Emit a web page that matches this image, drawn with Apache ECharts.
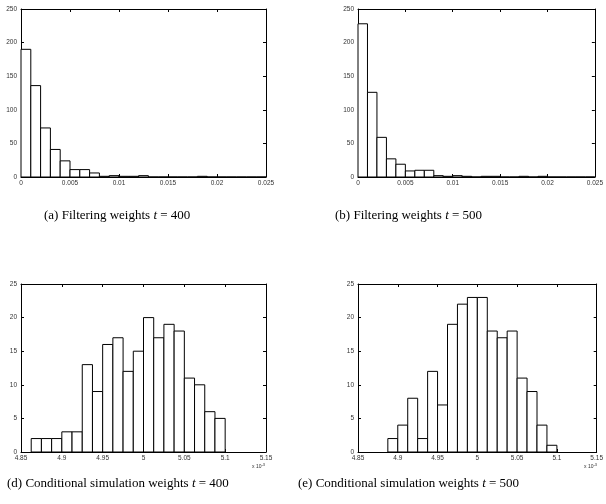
<!DOCTYPE html>
<html>
<head>
<meta charset="utf-8">
<script src="https://cdn.jsdelivr.net/npm/echarts@6/dist/echarts.min.js"></script>
<style>
  html, body { margin: 0; padding: 0; background: #fff; }
  #chart { width: 606px; height: 504px; }
</style>
</head>
<body>
<div id="chart"></div>
<script>
// Histogram counts per bin for the particle weights.
const filteringCounts400 = [190, 136, 73, 41, 24, 11, 11, 6, 1, 2, 1, 1, 2, 0, 0, 0, 0, 0, 1, 0, 0, 0, 0, 0, 0];
const filteringCounts500 = [228, 126, 59, 27, 19, 9, 10, 10, 2, 1, 2, 1, 0, 1, 1, 0, 0, 1, 0, 1, 0, 0, 0, 0, 0];
const filteringBinStart = 0;
const filteringBinWidth = 0.001;

// Conditional simulation weights, in units of 1e-3.
const conditionalCounts400 = [2, 2, 2, 3, 3, 13, 9, 16, 17, 12, 15, 20, 17, 19, 18, 11, 10, 6, 5];
const conditionalBinStart400 = 4.8625;
const conditionalCounts500 = [2, 4, 8, 2, 12, 7, 19, 22, 23, 23, 18, 17, 18, 11, 9, 4, 1];
const conditionalBinStart500 = 4.8875;
const conditionalBinWidth = 0.0125;

const captions = [
  ['(a) Filtering weights ', 't', ' = 400'],
  ['(b) Filtering weights ', 't', ' = 500'],
  ['(d) Conditional simulation weights ', 't', ' = 400'],
  ['(e) Conditional simulation weights ', 't', ' = 500']
];

const tickFont = { fontFamily: 'Liberation Sans', fontSize: 6.5, color: '#333' };

function binsFrom(start, width, counts) {
  return counts.map((n, i) => [start + i * width, start + (i + 1) * width, n]);
}

function renderBin(params, api) {
  const top = api.coord([api.value(0), api.value(2)]);
  const base = api.coord([api.value(1), 0]);
  return {
    type: 'rect',
    shape: { x: top[0], y: top[1], width: base[0] - top[0], height: base[1] - top[1] },
    style: { fill: '#fff', stroke: '#000', lineWidth: 1 }
  };
}

const panels = [
  { grid: { left: 21, top: 9, width: 245, height: 168 }, x: [0, 0.025, 0.005], y: [0, 250, 50],
    data: binsFrom(filteringBinStart, filteringBinWidth, filteringCounts400) },
  { grid: { left: 358, top: 9, width: 244, height: 168 }, x: [0, 0.025, 0.005], y: [0, 250, 50],
    data: binsFrom(filteringBinStart, filteringBinWidth, filteringCounts500) },
  { grid: { left: 21, top: 284, width: 245, height: 168 }, x: [4.85, 5.15, 0.05], y: [0, 25, 5],
    data: binsFrom(conditionalBinStart400, conditionalBinWidth, conditionalCounts400) },
  { grid: { left: 358, top: 284, width: 244, height: 168 }, x: [4.85, 5.15, 0.05], y: [0, 25, 5],
    data: binsFrom(conditionalBinStart500, conditionalBinWidth, conditionalCounts500) }
];

const grids = [], xAxes = [], yAxes = [], series = [];
const lineStyle = { color: '#000', width: 1 };
panels.forEach((p, i) => {
  grids.push(Object.assign({ containLabel: false }, p.grid));
  const xBase = { type: 'value', gridIndex: i, min: p.x[0], max: p.x[1], interval: p.x[2],
    splitLine: { show: false }, axisLine: { show: true, onZero: false, lineStyle },
    axisTick: { show: true, inside: true, length: 3, lineStyle } };
  xAxes.push(Object.assign({}, xBase, { position: 'bottom',
    axisLabel: Object.assign({ margin: 3, showMinLabel: true, showMaxLabel: true, hideOverlap: false }, tickFont) }));
  xAxes.push(Object.assign({}, xBase, { position: 'top', axisLabel: { show: false } }));
  const yBase = { type: 'value', gridIndex: i, min: p.y[0], max: p.y[1], interval: p.y[2],
    splitLine: { show: false }, axisLine: { show: true, onZero: false, lineStyle },
    axisTick: { show: true, inside: true, length: 3, lineStyle } };
  yAxes.push(Object.assign({}, yBase, { position: 'left',
    axisLabel: Object.assign({ margin: 4 }, tickFont) }));
  yAxes.push(Object.assign({}, yBase, { position: 'right', axisLabel: { show: false } }));
  series.push({ type: 'custom', xAxisIndex: 2 * i, yAxisIndex: 2 * i, data: p.data,
    encode: { x: [0, 1], y: 2 }, renderItem: renderBin, silent: true, animation: false });
});

// sub-figure captions, left edge and vertical middle
const captionSpots = [[44, 216], [335, 216], [7, 484], [298, 484]];
const graphics = captions.map((c, i) => ({
  type: 'text', x: captionSpots[i][0], y: captionSpots[i][1],
  style: {
    text: c[0] + '{i|' + c[1] + '}' + c[2],
    fontFamily: 'Liberation Serif', fontSize: 13, fill: '#000',
    verticalAlign: 'middle', align: 'left',
    rich: { i: { fontFamily: 'Liberation Serif', fontStyle: 'italic', fontSize: 13 } }
  }
}));
// scale factor notes under the conditional simulation panels
[[252, 467], [584, 467]].forEach(pos => {
  graphics.push({ type: 'text', left: pos[0], top: pos[1] - 4,
    style: { text: 'x 10{s|-3}', fontFamily: 'Liberation Sans', fontSize: 5, fill: '#333',
      rich: { s: { fontSize: 4, verticalAlign: 'top', padding: [0, 0, 3, 0] } } } });
});

const chart = echarts.init(document.getElementById('chart'), null, { renderer: 'canvas' });
chart.setOption({
  animation: false,
  backgroundColor: '#fff',
  grid: grids, xAxis: xAxes, yAxis: yAxes, series,
  graphic: graphics
});
</script>
</body>
</html>
